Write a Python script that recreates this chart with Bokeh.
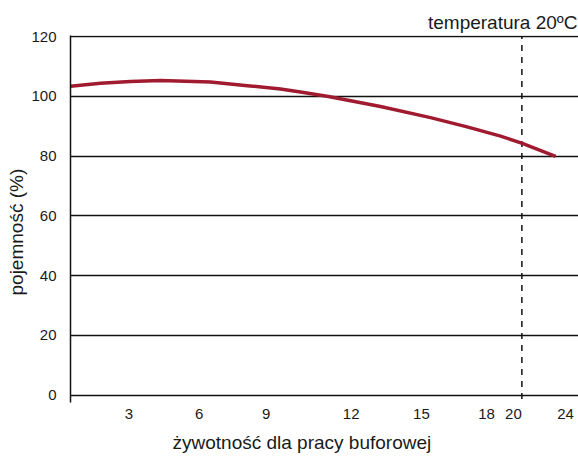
from bokeh.plotting import figure
from bokeh.models import FixedTicker, Range1d, Title
from bokeh.embed import file_html
from bokeh.resources import INLINE

# --- data ---------------------------------------------------------------
# x positions are in axis units (irregular tick spacing of the original)
tick_positions = [2.83, 6.22, 9.47, 13.58, 16.98, 20.13, 21.43, 23.95]
tick_labels = ["3", "6", "9", "12", "15", "18", "20", "24"]
y_ticks = [0, 20, 40, 60, 80, 100, 120]

curve_x = [0.0, 1.45, 2.9, 4.35, 6.77, 8.56, 10.16, 11.13, 12.48, 15.0, 17.42, 19.19, 20.81, 21.86, 23.47]
curve_y = [103.4, 104.4, 105.0, 105.3, 104.8, 103.6, 102.5, 101.5, 100.0, 96.6, 92.9, 89.8, 86.7, 84.3, 79.9]

marker_x = 21.84          # dashed line ("20")
title_text = "temperatura 20ºC"
x_label = "żywotność dla pracy buforowej"
y_label = "pojemność (%)"

FONT = "Liberation Sans"
TXT = "#1a1a1a"

p = figure(width=578, height=462, output_backend="svg", toolbar_location=None,
           x_range=Range1d(0, 24.58), y_range=Range1d(-2.5, 120.4),
           min_border_left=70, min_border_right=0, min_border_top=35, min_border_bottom=60)
p.outline_line_color = None
p.background_fill_color = "white"

# grid
p.xgrid.visible = False
p.ygrid.ticker = FixedTicker(ticks=y_ticks)
p.ygrid.grid_line_color = "#111111"
p.ygrid.grid_line_width = 1.5

# y axis
p.yaxis.ticker = FixedTicker(ticks=y_ticks)
p.yaxis.axis_line_color = "#111111"
p.yaxis.axis_line_width = 1.5
p.yaxis.major_tick_line_color = None
p.yaxis.minor_tick_line_color = None
p.yaxis.major_label_standoff = 8
p.yaxis.major_label_text_font = FONT
p.yaxis.major_label_text_font_size = "15px"
p.yaxis.major_label_text_color = TXT

# x axis
p.xaxis.ticker = FixedTicker(ticks=tick_positions)
p.xaxis.major_label_overrides = {t: l for t, l in zip(tick_positions, tick_labels)}
p.xaxis.axis_line_color = None
p.xaxis.major_tick_line_color = None
p.xaxis.minor_tick_line_color = None
p.xaxis.major_label_standoff = 0
p.xaxis.major_label_text_font = FONT
p.xaxis.major_label_text_font_size = "15px"
p.xaxis.major_label_text_color = TXT

# dashed marker line
p.segment(x0=[marker_x], y0=[-1.3], x1=[marker_x], y1=[120], line_color="#111111",
          line_width=1.5, line_dash="6 6")

# curve
p.line(curve_x, curve_y, line_color="#a01b30", line_width=3.5)

# texts
p.add_layout(Title(text=title_text, align="right", offset=1, standoff=5,
                   text_font=FONT, text_font_size="19px", text_font_style="normal",
                   text_color=TXT), "above")
p.add_layout(Title(text=x_label, align="left", offset=102, standoff=17,
                   text_font=FONT, text_font_size="19px", text_font_style="normal",
                   text_color=TXT), "below")
p.add_layout(Title(text=y_label, align="left", offset=107, standoff=4,
                   text_font=FONT, text_font_size="19px", text_font_style="normal",
                   text_color=TXT), "left")

open("out.html", "w").write(file_html(p, INLINE))
